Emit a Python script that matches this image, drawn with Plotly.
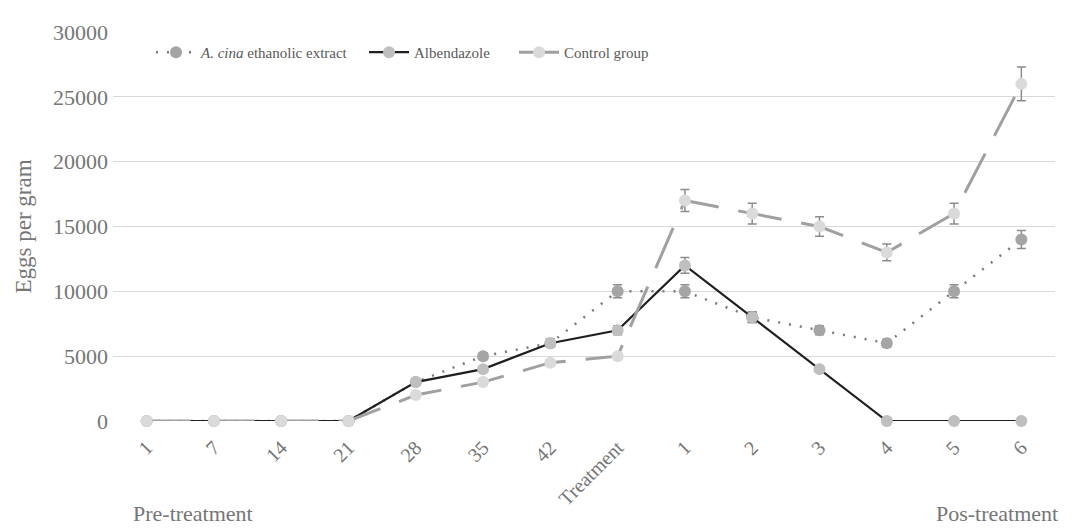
import plotly.graph_objects as go

# ---- data ----
tick_labels = ["1", "7", "14", "21", "28", "35", "42", "Treatment", "1", "2", "3", "4", "5", "6"]
x_pos = list(range(len(tick_labels)))

cina_vals = [0, 0, 0, 0, 3000, 5000, 6000, 10000, 10000, 8000, 7000, 6000, 10000, 14000]
cina_err = [0, 0, 0, 0, 150, 250, 300, 500, 500, 400, 350, 300, 500, 700]

albendazole_vals = [0, 0, 0, 0, 3000, 4000, 6000, 7000, 12000, 8000, 4000, 0, 0, 0]
albendazole_err = [0, 0, 0, 0, 150, 200, 300, 350, 600, 400, 200, 0, 0, 0]

control_vals = [0, 0, 0, 0, 2000, 3000, 4500, 5000, 17000, 16000, 15000, 13000, 16000, 26000]
control_err = [0, 0, 0, 0, 100, 150, 225, 250, 850, 800, 750, 650, 800, 1300]

series_names = ["<i>A. cina</i> ethanolic extract", "Albendazole", "Control group"]

FONT = "Liberation Serif"
ERR_COLOR = "#8c8c8c"
TXT = "#767676"

# page body has an 8px margin: figure occupies x 8..1081, y 8..528
W, H = 1073, 520
PL, PT, PR, PB = 113, 22, 1055, 421  # plot area in window pixels
OFF = 8

fig = go.Figure()

fig.add_trace(go.Scatter(
    x=x_pos, y=cina_vals, name=series_names[0], mode="lines+markers", legend="legend",
    line=dict(color="#7a7a7a", width=2.5, dash="2px,9px"),
    marker=dict(color="#a5a5a5", size=12),
    error_y=dict(type="data", array=cina_err, visible=True, color=ERR_COLOR, thickness=1.5, width=4.5),
    cliponaxis=False,
))
fig.add_trace(go.Scatter(
    x=x_pos, y=albendazole_vals, name=series_names[1], mode="lines+markers", legend="legend2",
    line=dict(color="#1f1f1f", width=2.2),
    marker=dict(color="#bfbfbf", size=12),
    error_y=dict(type="data", array=albendazole_err, visible=True, color=ERR_COLOR, thickness=1.5, width=4.5),
    cliponaxis=False,
))
fig.add_trace(go.Scatter(
    x=x_pos, y=control_vals, name=series_names[2], mode="lines+markers", legend="legend3",
    line=dict(color="#a0a0a0", width=3, dash="44px,20px"),
    marker=dict(color="#dadada", size=12),
    error_y=dict(type="data", array=control_err, visible=True, color=ERR_COLOR, thickness=1.5, width=4.5),
    cliponaxis=False,
))

pw = PR - PL
ph = PB - PT


def px_x(x):
    return (x - PL) / pw


def px_y(y):
    return (PB - y) / ph


leg_common = dict(
    orientation="h", yanchor="top", xanchor="left",
    font=dict(family=FONT, size=15, color="#595959"),
    bgcolor="rgba(0,0,0,0)", itemwidth=40,
)

fig.update_layout(
    width=W, height=H,
    margin=dict(l=PL - OFF, r=1081 - PR, t=PT - OFF, b=528 - PB),
    paper_bgcolor="white", plot_bgcolor="white",
    font=dict(family=FONT, color=TXT, size=20),
    showlegend=True,
    legend=dict(x=px_x(151), y=px_y(26), **leg_common),
    legend2=dict(x=px_x(364), y=px_y(26), **leg_common),
    legend3=dict(x=px_x(514), y=px_y(26), **leg_common),
    xaxis=dict(
        range=[-0.5, len(tick_labels) - 0.5],
        tickmode="array", tickvals=x_pos, ticktext=tick_labels,
        tickangle=-45, showgrid=False, zeroline=False, showline=False,
        ticks="", ticklabelstandoff=10, tickfont=dict(size=20, color=TXT),
    ),
    yaxis=dict(
        range=[0, 30000], dtick=5000, tickformat="d",
        showgrid=True, gridcolor="#d9d9d9", gridwidth=1,
        zeroline=False, showline=False, ticks="", ticklabelstandoff=4,
        tickfont=dict(size=22, color=TXT),
        title=dict(text="Eggs per gram", font=dict(size=23, color=TXT), standoff=14),
    ),
    annotations=[
        dict(text="Pre-treatment", xref="paper", yref="paper", x=px_x(193), y=px_y(516),
             xanchor="center", yanchor="middle", showarrow=False, font=dict(size=22, color=TXT)),
        dict(text="Pos-treatment", xref="paper", yref="paper", x=px_x(997), y=px_y(516),
             xanchor="center", yanchor="middle", showarrow=False, font=dict(size=22, color=TXT)),
    ],
)

fig.write_html("out.html")
